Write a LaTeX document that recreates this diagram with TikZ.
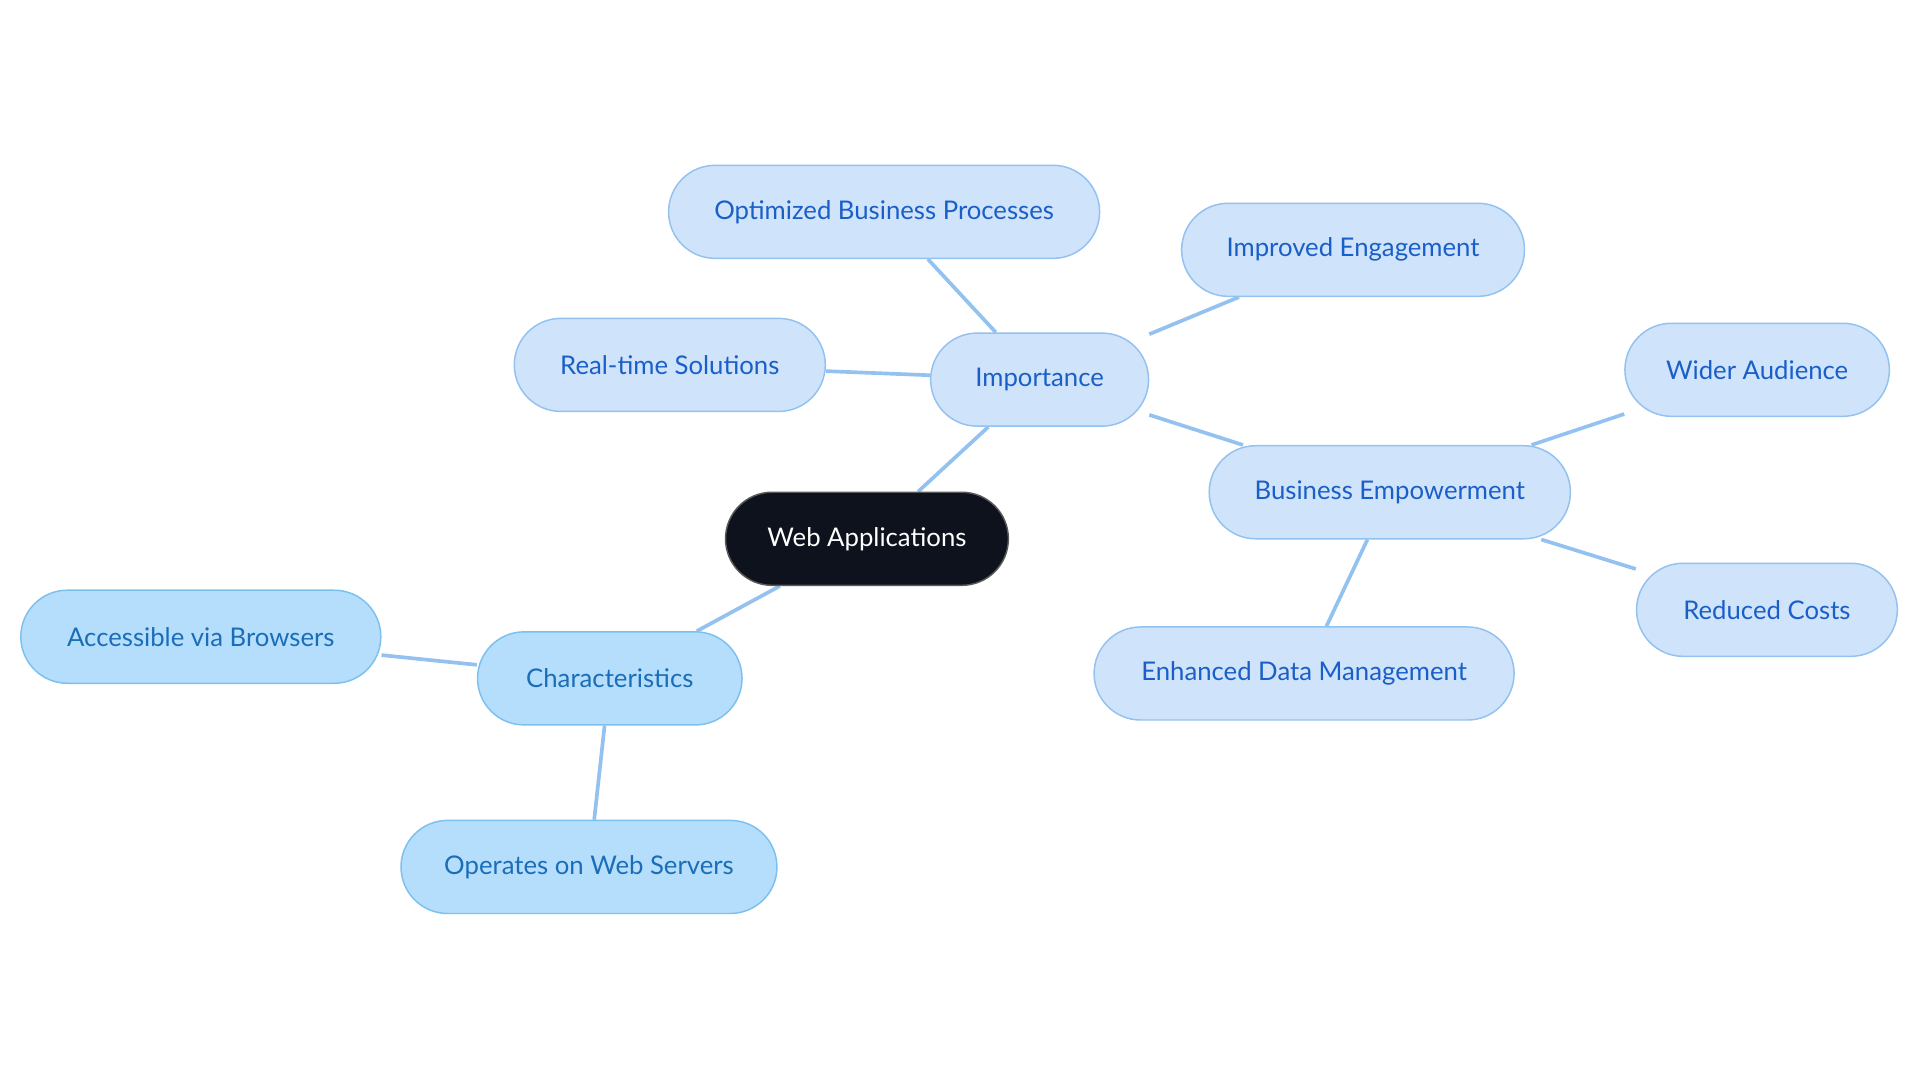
\documentclass[tikz,border=0pt]{standalone}
\usepackage{fontspec}
\setmainfont{Lato}
\usetikzlibrary{backgrounds}
\definecolor{edgec}{HTML}{93C1F0}
\definecolor{impfill}{HTML}{CFE3FB}
\definecolor{impdraw}{HTML}{93C1F0}
\definecolor{imptext}{HTML}{1A5FC8}
\definecolor{chfill}{HTML}{B5DEFC}
\definecolor{chdraw}{HTML}{7CC0EE}
\definecolor{chtext}{HTML}{1B6DB8}
\definecolor{rootc}{HTML}{0D121C}
\begin{document}
\begin{tikzpicture}[x=0.5pt,y=-0.5pt,
  box/.style={rectangle,rounded corners=19pt,minimum height=38pt,line width=0.6pt,font=\fontsize{10.5}{12}\selectfont,inner sep=0pt},
  imp/.style={box,fill=impfill,draw=impdraw,text=imptext},
  ch/.style={box,fill=chfill,draw=chdraw,text=chtext},
  root/.style={box,fill=rootc,draw=gray!70!black,text=white},
  link/.style={draw=edgec,line width=1.5pt}]
\useasboundingbox (0,0) rectangle (1568,884);
\node[root,minimum width=115.5pt] (wa) at (708,440) {Web Applications};
\node[imp,minimum width=89pt] (im) at (849,310) {Importance};
\node[imp,minimum width=176pt] (op) at (722,173) {Optimized Business Processes};
\node[imp,minimum width=140pt] (ie) at (1105,204) {Improved Engagement};
\node[imp,minimum width=127pt] (rt) at (547,298) {Real-time Solutions};
\node[imp,minimum width=147.5pt] (be) at (1135,402) {Business Empowerment};
\node[imp,minimum width=108pt] (wd) at (1435,302) {Wider Audience};
\node[imp,minimum width=106.5pt] (rc) at (1443,498) {Reduced Costs};
\node[imp,minimum width=171.5pt] (ed) at (1065,550) {Enhanced Data Management};
\node[ch,minimum width=108pt] (cc) at (498,554) {Characteristics};
\node[ch,minimum width=147pt] (ab) at (164,520) {Accessible via Browsers};
\node[ch,minimum width=153.5pt] (ow) at (481,708) {Operates on Web Servers};
\begin{scope}[on background layer]
\draw[link] (wa) -- (im);
\draw[link] (wa) -- (cc);
\draw[link] (im) -- (op);
\draw[link] (im) -- (ie);
\draw[link] (im) -- (rt);
\draw[link] (im) -- (be);
\draw[link] (be) -- (wd);
\draw[link] (be) -- (rc);
\draw[link] (be) -- (ed);
\draw[link] (cc) -- (ab);
\draw[link] (cc) -- (ow);
\end{scope}
\end{tikzpicture}
\end{document}
